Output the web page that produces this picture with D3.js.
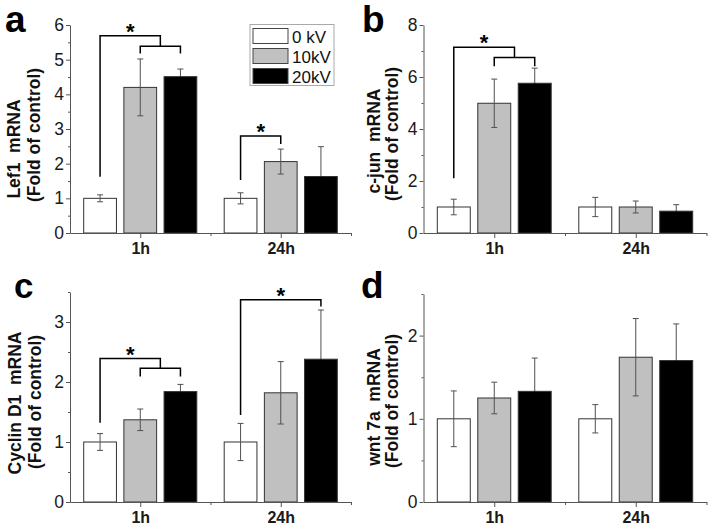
<!DOCTYPE html>
<html><head><meta charset="utf-8">
<script src="https://cdn.jsdelivr.net/npm/d3@7"></script>
<style>
body{margin:0;background:#fff;}
svg{display:block;font-family:"Liberation Sans",Arial,sans-serif;}
text{white-space:pre;}
</style></head>
<body>
<svg id="chart" width="714" height="528"></svg>
<script>
// ---- data ----
const groups = ["1h", "24h"];
const series = ["0 kV", "10kV", "20kV"];
const seriesFill = ["#ffffff", "#c0c0c0", "#000000"];

// [group][series]
const lef1Mean = [[1.00, 4.20, 4.51], [1.00, 2.06, 1.63]];
const lef1Err  = [[0.10, 0.82, 0.22], [0.16, 0.36, 0.86]];
const cjunMean = [[1.00, 4.99, 5.76], [1.00, 1.00, 0.84]];
const cjunErr  = [[0.30, 0.93, 0.58], [0.37, 0.23, 0.25]];
const cyclinMean = [[1.00, 1.37, 1.84], [1.00, 1.82, 2.38]];
const cyclinErr  = [[0.14, 0.18, 0.12], [0.31, 0.52, 0.82]];
const wntMean = [[1.00, 1.25, 1.33], [1.00, 1.74, 1.70]];
const wntErr  = [[0.335, 0.19, 0.40], [0.17, 0.465, 0.44]];

const lef1Ticks = [0, 1, 2, 3, 4, 5, 6];
const lef1Minor = [0.5, 1.5, 2.5, 3.5, 4.5, 5.5];
const cjunTicks = [0, 2, 4, 6, 8];
const cjunMinor = [1, 3, 5, 7];
const cyclinTicks = [0, 1, 2, 3];
const cyclinMinor = [0.5, 1.5, 2.5, 3.5];
const wntTicks = [0, 1, 2];
const wntMinor = [0.5, 1.5, 2.5];

// significance brackets (values in data units)
const lef1Sig = [
  {g: 0, from: 0, to: [1, 2], base: 1.62, top: 5.69, join: 5.39, tip: 5.18},
  {g: 1, from: 0, to: [1], base: 1.53, top: 2.80, tip: 2.57}
];
const cjunSig = [
  {g: 0, from: 0, to: [1, 2], base: 2.11, top: 7.14, join: 6.75, tip: 6.41}
];
const cyclinSig = [
  {g: 0, from: 0, to: [1, 2], base: 1.32, top: 2.39, join: 2.23, tip: 2.09},
  {g: 1, from: 0, to: [2], base: 1.45, top: 3.37, tip: 3.26}
];
const wntSig = [];

// ---- layout ----
const svg = d3.select("#chart");
const AXIS = "#555";

const panels = [
  {letter: "a", lx: 5, ly: 32, lfs: 37, x0: 70, W: 281, yTop: 25, yBot: 233, ymax: 6,
   major: lef1Ticks, minor: lef1Minor, mean: lef1Mean, err: lef1Err, sig: lef1Sig,
   lab1: "Lef1  mRNA", l1x: 20, l1y: 149, l2x: 40, l2y: 135, legend: true},
  {letter: "b", lx: 362, ly: 32, lfs: 37, x0: 423.5, W: 283, yTop: 25, yBot: 233, ymax: 8,
   major: cjunTicks, minor: cjunMinor, mean: cjunMean, err: cjunErr, sig: cjunSig,
   lab1: "c-jun  mRNA", l1x: 380, l1y: 141, l2x: 398, l2y: 134},
  {letter: "c", lx: 14, ly: 298, lfs: 35, x0: 70, W: 281, yTop: 292, yBot: 502, ymax: 3.5,
   major: cyclinTicks, minor: cyclinMinor, mean: cyclinMean, err: cyclinErr, sig: cyclinSig,
   lab1: "Cyclin D1  mRNA", l1x: 21, l1y: 403, l2x: 41, l2y: 402},
  {letter: "d", lx: 361, ly: 298, lfs: 37, x0: 423.5, W: 283, yTop: 294, yBot: 502, ymax: 2.5,
   major: wntTicks, minor: wntMinor, mean: wntMean, err: wntErr, sig: wntSig,
   lab1: "wnt 7a  mRNA", l1x: 380, l1y: 407, l2x: 398, l2y: 401}
];

const STEP = 0.286, BW = 0.233;

panels.forEach(p => {
  const g = svg.append("g");
  const x = d3.scaleLinear().domain([0, 2]).range([p.x0, p.x0 + p.W]);
  const y = d3.scaleLinear().domain([0, p.ymax]).range([p.yBot, p.yTop]);
  const bw = x(BW) - x(0);
  const barCx = (gi, k) => x(0.5 + gi + (k - 1) * STEP);

  // bars
  const rows = [];
  p.mean.forEach((arr, gi) => arr.forEach((v, k) => rows.push({gi, k, v, e: p.err[gi][k]})));
  g.selectAll("rect.bar").data(rows).join("rect")
    .attr("x", d => barCx(d.gi, d.k) - bw / 2)
    .attr("y", d => y(d.v))
    .attr("width", bw)
    .attr("height", d => y(0) - y(d.v))
    .attr("fill", d => seriesFill[d.k])
    .attr("stroke", "#333").attr("stroke-width", 1);

  // error bars: upper half
  const eu = g.selectAll("g.eu").data(rows).join("g")
    .attr("stroke", "#505050").attr("stroke-width", 1);
  eu.append("line")
    .attr("x1", d => barCx(d.gi, d.k)).attr("x2", d => barCx(d.gi, d.k))
    .attr("y1", d => y(d.v)).attr("y2", d => y(d.v + d.e));
  eu.append("line")
    .attr("x1", d => barCx(d.gi, d.k) - 3).attr("x2", d => barCx(d.gi, d.k) + 3)
    .attr("y1", d => y(d.v + d.e)).attr("y2", d => y(d.v + d.e));
  // lower half (hidden inside dark bars)
  const el = g.selectAll("g.el").data(rows).join("g")
    .attr("stroke", d => d.k === 2 ? "#000" : "#505050").attr("stroke-width", 1);
  el.append("line")
    .attr("x1", d => barCx(d.gi, d.k)).attr("x2", d => barCx(d.gi, d.k))
    .attr("y1", d => y(d.v - d.e)).attr("y2", d => y(d.v));
  el.append("line")
    .attr("x1", d => barCx(d.gi, d.k) - 3).attr("x2", d => barCx(d.gi, d.k) + 3)
    .attr("y1", d => y(d.v - d.e)).attr("y2", d => y(d.v - d.e));

  // axes
  const yAx = g.append("g").attr("transform", `translate(${p.x0},0)`)
    .call(d3.axisLeft(y).tickValues(p.major).tickSize(4).tickSizeOuter(0).tickPadding(2)
      .tickFormat(d3.format("d")));
  g.append("g").attr("transform", `translate(${p.x0},0)`)
    .call(d3.axisLeft(y).tickValues(p.minor).tickSize(2).tickSizeOuter(0).tickFormat(""))
    .select(".domain").remove();
  const xAx = g.append("g").attr("transform", `translate(0,${p.yBot})`)
    .call(d3.axisBottom(x).tickValues([0.5, 1.5]).tickSize(5).tickSizeOuter(0).tickPadding(5)
      .tickFormat((d, i) => groups[i]));
  g.append("g").attr("transform", `translate(0,${p.yBot})`)
    .call(d3.axisBottom(x).tickValues([1, 2]).tickSize(3).tickSizeOuter(0).tickFormat(""))
    .select(".domain").remove();
  g.selectAll(".domain, .tick line").attr("stroke", AXIS);
  yAx.selectAll("text").attr("font-size", 17.5).attr("fill", "#1a1a1a")
    .attr("font-family", "Liberation Sans, Arial, sans-serif");
  xAx.selectAll("text").attr("font-size", 16).attr("font-weight", "bold").attr("fill", "#1a1a1a")
    .attr("font-family", "Liberation Sans, Arial, sans-serif");

  // y labels
  g.append("text").attr("transform", `translate(${p.l1x},${p.l1y}) rotate(-90)`)
    .attr("text-anchor", "middle").attr("font-size", 17.5).attr("font-weight", "bold")
    .attr("fill", "#111").text(p.lab1);
  g.append("text").attr("transform", `translate(${p.l2x},${p.l2y}) rotate(-90)`)
    .attr("text-anchor", "middle").attr("font-size", 17.5).attr("font-weight", "bold")
    .attr("fill", "#111").text("(Fold of control)");

  // panel letter
  g.append("text").attr("x", p.lx).attr("y", p.ly).attr("font-size", p.lfs)
    .attr("font-weight", "bold").attr("fill", "#000").text(p.letter);

  // significance brackets
  p.sig.forEach(s => {
    const bl = g.append("g").attr("stroke", "#000").attr("stroke-width", 1.5).attr("fill", "none");
    const xl = barCx(s.g, s.from);
    let xr;
    if (s.to.length === 2) {
      const a = barCx(s.g, s.to[0]), b = barCx(s.g, s.to[1]);
      xr = (a + b) / 2;
      bl.append("path").attr("d",
        `M${xl},${y(s.base)}V${y(s.top)}H${xr}V${y(s.join)}`);
      bl.append("path").attr("d",
        `M${a},${y(s.tip)}V${y(s.join)}H${b}V${y(s.tip)}`);
    } else {
      xr = barCx(s.g, s.to[0]);
      bl.append("path").attr("d",
        `M${xl},${y(s.base)}V${y(s.top)}H${xr}V${y(s.tip)}`);
    }
    g.append("text").attr("x", (xl + xr) / 2).attr("y", y(s.top) + 3)
      .attr("text-anchor", "middle").attr("font-size", 22).attr("font-weight", "bold")
      .attr("fill", "#000").text("*");
  });

  // legend
  if (p.legend) {
    const lg = g.append("g");
    lg.append("rect").attr("x", 250).attr("y", 24.5).attr("width", 84).attr("height", 61)
      .attr("fill", "#fff").attr("stroke", "#aaa").attr("stroke-width", 1);
    series.forEach((s, i) => {
      lg.append("rect").attr("x", 253).attr("y", 28.5 + i * 20).attr("width", 35).attr("height", 15)
        .attr("fill", seriesFill[i]).attr("stroke", "#444").attr("stroke-width", 1);
      lg.append("text").attr("x", 292).attr("y", 42.5 + i * 20).attr("font-size", 17)
        .attr("fill", "#111").text(s);
    });
  }
});
</script>
</body></html>
